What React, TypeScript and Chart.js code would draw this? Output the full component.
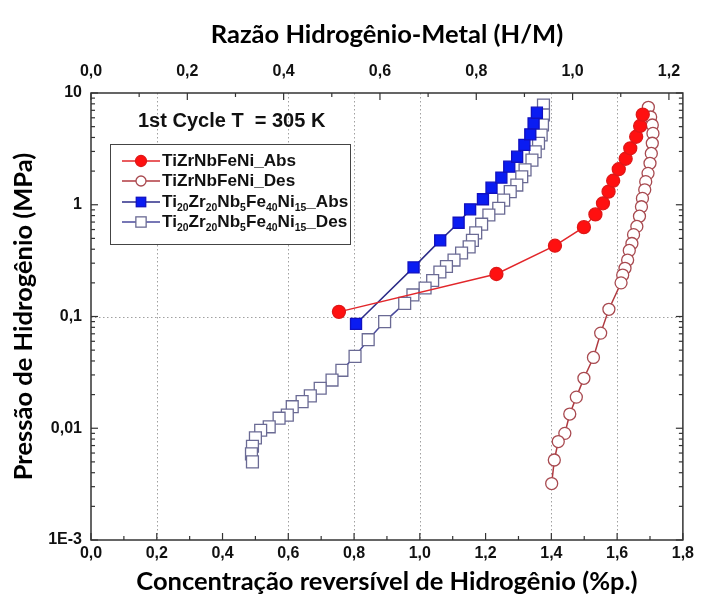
import React, { useEffect, useRef } from "react";
import { Chart, registerables } from "chart.js";

Chart.register(...registerables);

// ---------- data ----------
const redAbsX = [0.754, 1.233, 1.411, 1.499, 1.534, 1.557, 1.574, 1.588, 1.605, 1.626, 1.640, 1.658, 1.670, 1.678];
const redAbsP = [0.11, 0.24, 0.43, 0.63, 0.82, 1.03, 1.31, 1.64, 2.08, 2.58, 3.2, 4.06, 5.07, 6.4];

const redDesX = [1.695, 1.702, 1.707, 1.709, 1.707, 1.704, 1.700, 1.694, 1.687, 1.684, 1.677, 1.674, 1.668, 1.660, 1.650, 1.645, 1.637, 1.632, 1.624, 1.617, 1.612, 1.575, 1.550, 1.528, 1.499, 1.476, 1.456, 1.441, 1.421, 1.409, 1.401];
const redDesP = [7.45, 6.1, 5.17, 4.35, 3.55, 2.88, 2.35, 1.91, 1.61, 1.36, 1.14, 0.96, 0.79, 0.64, 0.54, 0.45, 0.39, 0.32, 0.27, 0.235, 0.20, 0.116, 0.071, 0.043, 0.028, 0.019, 0.0134, 0.0090, 0.0076, 0.0052, 0.0032];

const blueAbsX = [0.806, 0.981, 1.062, 1.118, 1.153, 1.192, 1.218, 1.248, 1.272, 1.296, 1.318, 1.336, 1.346, 1.356];
const blueAbsP = [0.086, 0.275, 0.48, 0.69, 0.91, 1.12, 1.42, 1.75, 2.19, 2.69, 3.43, 4.27, 5.35, 6.66];

const blueDesX = [1.376, 1.376, 1.373, 1.369, 1.361, 1.351, 1.341, 1.320, 1.310, 1.295, 1.275, 1.255, 1.240, 1.210, 1.188, 1.170, 1.160, 1.150, 1.127, 1.104, 1.081, 1.061, 1.039, 1.016, 0.979, 0.954, 0.893, 0.843, 0.803, 0.763, 0.733, 0.697, 0.667, 0.642, 0.612, 0.597, 0.572, 0.542, 0.516, 0.500, 0.491, 0.488, 0.491];
const blueDesP = [7.8, 6.36, 5.17, 4.21, 3.55, 2.98, 2.51, 2.05, 1.78, 1.50, 1.31, 1.10, 0.93, 0.81, 0.67, 0.56, 0.48, 0.42, 0.37, 0.32, 0.28, 0.25, 0.21, 0.18, 0.156, 0.131, 0.090, 0.062, 0.044, 0.033, 0.027, 0.0228, 0.0195, 0.0173, 0.0156, 0.0131, 0.0123, 0.0103, 0.0096, 0.0082, 0.0069, 0.0059, 0.0050];

const seriesNames = ["TiZrNbFeNi_Abs", "TiZrNbFeNi_Des", "Ti20Zr20Nb5Fe40Ni15_Abs", "Ti20Zr20Nb5Fe40Ni15_Des"];

const yTickValues = [0.001, 0.01, 0.1, 1, 10];
const yTickLabels = ["1E-3", "0,01", "0,1", "1", "10"];
const xGridValues = [0.2, 0.6, 0.8, 1.0, 1.4, 1.6];
const yGridValues = [0.1];

const xTitle = "Concentração reversível de Hidrogênio (%p.)";
const x2Title = "Razão Hidrogênio-Metal (H/M)";
const yTitle = "Pressão de Hidrogênio (MPa)";
const annotationText = "1st Cycle T  = 305 K";

// ---------- styles ----------
const ARIAL = "'Liberation Sans', Arial, sans-serif";
const TITLE_FONT = "Lato, 'Open Sans', sans-serif";

const styles = [
  { line: "#e2262a", fill: "#ff1010", stroke: "#e01818", shape: "circle", r: 6.5 },
  { line: "#b03a40", fill: "#ffffff", stroke: "#a84a50", shape: "circle", r: 6 },
  { line: "#2c2c88", fill: "#0a1cf2", stroke: "#1010c0", shape: "rect", r: 7.8 },
  { line: "#4a4a9c", fill: "#ffffff", stroke: "#6a6a94", shape: "rect", r: 8.4 },
];

const pts = (xs: number[], ys: number[]) => xs.map((x, i) => ({ x, y: ys[i] }));

const fmtComma = (v: number) => Number(v).toFixed(1).replace(".", ",");

function drawRich(ctx: CanvasRenderingContext2D, x: number, y: number, text: string, size: number, sx: number) {
  // subscripts: digits are drawn smaller and lower
  const parts = text.match(/(\d+|[^\d]+)/g) || [];
  ctx.save();
  ctx.translate(x, y);
  ctx.scale(sx, 1);
  let cx = 0;
  parts.forEach((p) => {
    const isSub = /^\d+$/.test(p);
    ctx.font = `bold ${isSub ? Math.round(size * 0.58) : size}px ${ARIAL}`;
    ctx.fillText(p, cx, isSub ? size * 0.35 : 0);
    cx += ctx.measureText(p).width;
  });
  ctx.restore();
}

const decorPlugin = {
  id: "decor",
  beforeDatasetsDraw(chart: any) {
    const { ctx, chartArea: a, scales } = chart;
    ctx.save();
    ctx.strokeStyle = "#a0a0a0";
    ctx.lineWidth = 1;
    ctx.setLineDash([1.5, 2.5]);
    xGridValues.forEach((v) => {
      const px = Math.round(scales.x.getPixelForValue(v)) + 0.5;
      ctx.beginPath();
      ctx.moveTo(px, a.top);
      ctx.lineTo(px, a.bottom);
      ctx.stroke();
    });
    yGridValues.forEach((v) => {
      const py = Math.round(scales.y.getPixelForValue(v)) + 0.5;
      ctx.beginPath();
      ctx.moveTo(a.left, py);
      ctx.lineTo(a.right, py);
      ctx.stroke();
    });
    ctx.restore();
  },
  afterDraw(chart: any) {
    const { ctx, chartArea: a, scales } = chart;
    ctx.save();
    // frame
    ctx.strokeStyle = "#333";
    ctx.lineWidth = 1.5;
    ctx.strokeRect(a.left, a.top, a.right - a.left, a.bottom - a.top);
    // inward ticks
    ctx.lineWidth = 1.2;
    const seg = (x1: number, y1: number, x2: number, y2: number) => {
      ctx.beginPath();
      ctx.moveTo(x1, y1);
      ctx.lineTo(x2, y2);
      ctx.stroke();
    };
    for (let i = 0; i <= 18; i++) {
      const px = scales.x.getPixelForValue(i / 10);
      seg(px, a.bottom, px, a.bottom - (i % 2 === 0 ? 7 : 4));
    }
    for (let i = 0; i <= 12; i++) {
      const px = scales.x2.getPixelForValue(i / 10);
      seg(px, a.top, px, a.top + (i % 2 === 0 ? 7 : 4));
    }
    yTickValues.forEach((d) => {
      for (let m = 1; m <= 9; m++) {
        const v = d * m;
        if (v > 10.0001) break;
        const py = scales.y.getPixelForValue(v);
        const len = m === 1 ? 7 : 4;
        seg(a.left, py, a.left + len, py);
        seg(a.right, py, a.right - len, py);
      }
    });

    // annotation
    ctx.fillStyle = "#111";
    ctx.textBaseline = "middle";
    ctx.textAlign = "left";
    ctx.font = `bold 20px ${ARIAL}`;
    ctx.fillText(annotationText, a.left + 47, a.top + 28);

    // legend box
    const bx = a.left + 19;
    const by = a.top + 51;
    const bw = 240;
    const bh = 100;
    ctx.fillStyle = "#fff";
    ctx.fillRect(bx, by, bw, bh);
    ctx.strokeStyle = "#444";
    ctx.lineWidth = 1;
    ctx.strokeRect(bx + 0.5, by + 0.5, bw, bh);
    const rows = [17, 37, 58, 78];
    seriesNames.forEach((name, i) => {
      const st = styles[i];
      const ry = by + rows[i];
      ctx.strokeStyle = st.line;
      ctx.lineWidth = 1.5;
      seg(bx + 12, ry, bx + 50, ry);
      ctx.fillStyle = st.fill;
      ctx.strokeStyle = st.stroke;
      ctx.lineWidth = 1.3;
      const mx = bx + 31;
      if (st.shape === "circle") {
        ctx.beginPath();
        ctx.arc(mx, ry, st.r - 1, 0, Math.PI * 2);
        ctx.fill();
        ctx.stroke();
      } else {
        const h = st.r * Math.SQRT1_2 - 0.8;
        ctx.fillRect(mx - h, ry - h, 2 * h, 2 * h);
        ctx.strokeRect(mx - h, ry - h, 2 * h, 2 * h);
      }
      ctx.fillStyle = "#111";
      ctx.textBaseline = "middle";
      drawRich(ctx, bx + 52, ry, name, 16.5, 1.04);
    });
    ctx.restore();
  },
};

export default function App() {
  const ref = useRef<HTMLCanvasElement | null>(null);
  useEffect(() => {
    if (!ref.current) return;
    const datasets = [
      pts(redAbsX, redAbsP),
      pts(redDesX, redDesP),
      pts(blueAbsX, blueAbsP),
      pts(blueDesX, blueDesP),
    ].map((data, i) => ({
      label: seriesNames[i],
      data,
      showLine: true,
      borderColor: styles[i].line,
      borderWidth: 1.5,
      pointStyle: styles[i].shape,
      pointRadius: styles[i].r,
      pointBackgroundColor: styles[i].fill,
      pointBorderColor: styles[i].stroke,
      pointBorderWidth: 1.3,
      xAxisID: "x",
      yAxisID: "y",
    }));
    const tickFont = { family: ARIAL, size: 16, weight: "bold" as const };
    const titleFont = { family: TITLE_FONT, size: 25.5, weight: "bold" as const };
    const chart = new Chart(ref.current, {
      type: "scatter",
      data: { datasets },
      plugins: [decorPlugin],
      options: {
        animation: false,
        responsive: false,
        maintainAspectRatio: false,
        layout: { padding: { left: 0, right: 9, top: 0, bottom: 0 } },
        plugins: { legend: { display: false }, tooltip: { enabled: false } },
        scales: {
          x: {
            type: "linear",
            position: "bottom",
            min: 0,
            max: 1.8,
            afterFit: (s: any) => {
              s.height = 57;
            },
            ticks: { stepSize: 0.2, padding: 4, color: "#111", font: tickFont, maxRotation: 0, autoSkip: false, callback: (v: any) => fmtComma(v) },
            grid: { display: false, drawTicks: false },
            border: { display: false },
            title: { display: true, text: xTitle, color: "#000", font: titleFont, padding: { top: 0, bottom: 0 } },
          },
          x2: {
            type: "linear",
            position: "top",
            min: 0,
            max: 1.229,
            afterFit: (s: any) => {
              s.height = 85;
            },
            ticks: { stepSize: 0.2, includeBounds: false, padding: 12, color: "#111", font: tickFont, maxRotation: 0, autoSkip: false, callback: (v: any) => fmtComma(v) },
            grid: { display: false, drawTicks: false },
            border: { display: false },
            title: { display: true, text: x2Title, color: "#000", font: titleFont, padding: { top: 11, bottom: 0 } },
          },
          y: {
            type: "logarithmic",
            position: "left",
            min: 0.001,
            max: 10,
            afterFit: (s: any) => {
              s.width = 83;
            },
            afterBuildTicks: (s: any) => {
              s.ticks = yTickValues.map((value) => ({ value }));
            },
            ticks: {
              padding: 9,
              color: "#111",
              font: tickFont,
              autoSkip: false,
              callback: (v: any) => {
                const i = yTickValues.findIndex((t) => Math.abs(t - v) / t < 1e-6);
                return i >= 0 ? yTickLabels[i] : "";
              },
            },
            grid: { display: false, drawTicks: false },
            border: { display: false },
            title: { display: true, text: yTitle, color: "#000", font: titleFont, padding: { top: 0, bottom: 0 } },
          },
        },
      } as any,
    });
    return () => chart.destroy();
  }, []);
  return (
    <div style={{ width: 690, height: 589 }}>
      <canvas ref={ref} width={690} height={589} style={{ display: "block" }} />
    </div>
  );
}
